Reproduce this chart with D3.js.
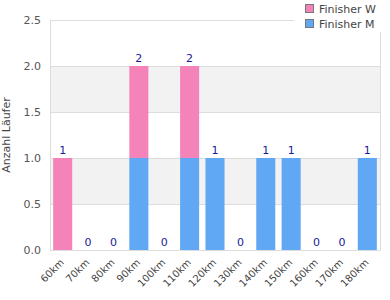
<!DOCTYPE html>
<html>
<head>
<meta charset="utf-8">
<script src="https://cdn.jsdelivr.net/npm/d3@7"></script>
<style>
body { margin: 0; background: #fff; }
svg { font-family: "DejaVu Sans", sans-serif; }
</style>
</head>
<body>
<script>
// data
var categories = ["60km", "70km", "80km", "90km", "100km", "110km", "120km", "130km", "140km", "150km", "160km", "170km", "180km"];
var finisherM = [0, 0, 0, 1, 0, 1, 1, 0, 1, 1, 0, 0, 1];
var finisherW = [1, 0, 0, 1, 0, 1, 0, 0, 0, 0, 0, 0, 0];
var yTicks = [0, 0.5, 1, 1.5, 2, 2.5];
var seriesNames = ["Finisher W", "Finisher M"];
var seriesColors = ["#f383b8", "#60a8f3"];

var width = 390, height = 300;
var plotLeft = 50, plotRight = 380, plotTop = 20, plotBottom = 250;

var svg = d3.select("body").append("svg")
    .attr("width", width)
    .attr("height", height);

var x = d3.scaleBand()
    .domain(categories)
    .range([plotLeft, plotRight])
    .paddingInner(0.25)
    .paddingOuter(0.125);

var y = d3.scaleLinear()
    .domain([0, 2.5])
    .range([plotBottom, plotTop]);

// alternating bands
for (var i = 0; i < yTicks.length - 1; i++) {
  if (i % 2 == 1) {
    svg.append("rect")
      .attr("x", plotLeft)
      .attr("width", plotRight - plotLeft)
      .attr("y", y(yTicks[i + 1]))
      .attr("height", y(yTicks[i]) - y(yTicks[i + 1]))
      .attr("fill", "#f2f2f2");
  }
}

// grid lines
svg.append("g").selectAll("line")
  .data(yTicks)
  .enter().append("line")
  .attr("x1", plotLeft).attr("x2", plotRight)
  .attr("y1", function(d) { return Math.round(y(d)) + 0.5; })
  .attr("y2", function(d) { return Math.round(y(d)) + 0.5; })
  .attr("stroke", "#dddddd");

// plot border
svg.append("line").attr("x1", plotLeft + 0.5).attr("x2", plotLeft + 0.5)
  .attr("y1", plotTop).attr("y2", plotBottom).attr("stroke", "#dddddd");
svg.append("line").attr("x1", plotRight + 0.5).attr("x2", plotRight + 0.5)
  .attr("y1", plotTop).attr("y2", plotBottom + 0.5).attr("stroke", "#dddddd");

// stacked bars
var rows = categories.map(function(c, i) { return { cat: c, w: finisherW[i], m: finisherM[i] }; });
var stack = d3.stack().keys(["m", "w"])(rows);
var colorFor = { m: seriesColors[1], w: seriesColors[0] };

stack.forEach(function(layer) {
  svg.append("g").selectAll("rect")
    .data(layer)
    .enter().append("rect")
    .attr("x", function(d) { return x(d.data.cat); })
    .attr("width", x.bandwidth())
    .attr("y", function(d) { return y(d[1]); })
    .attr("height", function(d) { return y(d[0]) - y(d[1]); })
    .attr("fill", colorFor[layer.key]);
});

// value labels
svg.append("g").selectAll("text")
  .data(rows)
  .enter().append("text")
  .attr("x", function(d) { return x(d.cat) + x.bandwidth() / 2; })
  .attr("y", function(d) { return y(d.w + d.m) - 4; })
  .attr("text-anchor", "middle")
  .attr("font-size", 11)
  .attr("fill", "#1a1a99")
  .text(function(d) { return d.w + d.m; });

// y axis labels
svg.append("g").selectAll("text")
  .data(yTicks)
  .enter().append("text")
  .attr("x", 41)
  .attr("y", function(d) { return y(d) + 4; })
  .attr("text-anchor", "end")
  .attr("font-size", 11)
  .attr("fill", "#555")
  .text(function(d) { return d.toFixed(1); });

// x axis labels
svg.append("g").selectAll("text")
  .data(categories)
  .enter().append("text")
  .attr("transform", function(d) {
    return "translate(" + (x(d) + x.bandwidth() / 2 + 2) + "," + (plotBottom + 13) + ") rotate(-45)";
  })
  .attr("text-anchor", "end")
  .attr("font-size", 10)
  .attr("fill", "#444")
  .text(function(d) { return d; });

// y title
svg.append("text")
  .attr("transform", "translate(10," + ((plotTop + plotBottom) / 2) + ") rotate(-90)")
  .attr("text-anchor", "middle")
  .attr("font-size", 11)
  .attr("fill", "#444")
  .text("Anzahl Läufer");

// legend
var legend = svg.append("g");
legend.append("rect")
  .attr("x", 294).attr("y", 0).attr("width", 96).attr("height", 32)
  .attr("fill", "#fff");
var items = legend.selectAll("g")
  .data(seriesNames)
  .enter().append("g")
  .attr("transform", function(d, i) { return "translate(305," + (4 + i * 15) + ")"; });
items.append("rect")
  .attr("x", 0.5).attr("y", 0.5).attr("width", 8).attr("height", 8)
  .attr("fill", function(d, i) { return seriesColors[i]; })
  .attr("stroke", "#777");
items.append("text")
  .attr("x", 14).attr("y", 8.5)
  .attr("font-size", 11)
  .attr("fill", "#444")
  .text(function(d) { return d; });
</script>
</body>
</html>
